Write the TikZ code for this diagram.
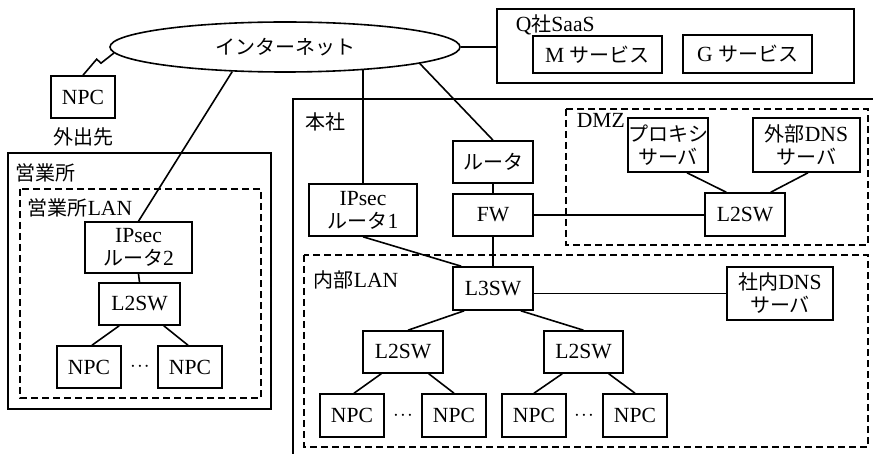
\documentclass[tikz,border=0pt]{standalone}
\usepackage{fontspec}
\setmainfont{Liberation Serif}[Scale=1.08]
\newfontfamily\jp{Noto Sans CJK JP}
\usetikzlibrary{shapes.geometric}
\begin{document}
\begin{tikzpicture}[x=1pt,y=-1pt, line width=1.6pt,
  font=\fontsize{20}{23}\selectfont,
  box/.style={draw, inner sep=0pt, align=center},
  zone/.style={draw, dash pattern=on 7pt off 4pt},
  lbl/.style={anchor=west, inner sep=0pt},
  dots/.style={inner sep=0pt}]
\useasboundingbox (0,0) rectangle (873,454);

% containers
\draw (293,454) -- (293,99) -- (873,99);
\draw (8,153) rectangle (271,409);
\draw[zone] (20,189) rectangle (261,398);
\draw[zone] (566,109) rectangle (868,245);
\draw[zone] (304,255) rectangle (868,447);
\node[box, minimum width=357, minimum height=74] (saas) at (675.5,46) {};

% labels
\node[lbl] (lHonsha) at (305,122) {\jp 本社};
\node[lbl] (lEigyo) at (15,173) {\jp 営業所};
\node[lbl] (lEigyoLAN) at (27,208) {{\jp 営業所}LAN};
\node[lbl] (lDMZ) at (576,120) {DMZ};
\node[lbl] (lNaibu) at (313,280) {{\jp 内部}LAN};
\node[lbl] (lSaaS) at (515,25) {Q{\jp 社}SaaS};

% internet
\node[ellipse, draw, minimum width=350, minimum height=50, inner sep=0pt] (inet) at (285,47) {\jp インターネット};

% services
\node[box, minimum width=129, minimum height=37] (msvc) at (597.5,54.5) {M {\jp サービス}};
\node[box, minimum width=129, minimum height=38] (gsvc) at (747.5,54) {G {\jp サービス}};

% outside NPC
\node[box, minimum width=64, minimum height=42] (npc0) at (83,97) {NPC};
\node[inner sep=0pt] (lOut) at (83,137) {\jp 外出先};

% branch office
\node[box, minimum width=107, minimum height=51] (ipsec2) at (138.5,247.5) {IPsec\\{\jp ルータ}2};
\node[box, minimum width=81, minimum height=42] (l2a) at (139.5,304) {L2SW};
\node[box, minimum width=64, minimum height=42] (npcA1) at (89,367) {NPC};
\node[box, minimum width=64, minimum height=42] (npcA2) at (190,367) {NPC};
\node[dots] (dotsA) at (140,367) {$\cdot\!\cdot\!\cdot$};

% head office
\node[box, minimum width=108, minimum height=52] (ipsec1) at (363,210) {IPsec\\{\jp ルータ}1};
\node[box, minimum width=80, minimum height=42] (router) at (493,162) {\jp ルータ};
\node[box, minimum width=80, minimum height=42] (fw) at (493,215) {FW};
\node[box, minimum width=80, minimum height=43] (l3) at (493,288.5) {L3SW};
\node[box, minimum width=78, minimum height=54] (proxy) at (668,145) {{\jp プロキシ}\\{\jp サーバ}};
\node[box, minimum width=107, minimum height=54] (extdns) at (806.5,145) {{\jp 外部}DNS\\{\jp サーバ}};
\node[box, minimum width=80, minimum height=43] (l2dmz) at (745,214.5) {L2SW};
\node[box, minimum width=106, minimum height=53] (indns) at (780,293.5) {{\jp 社内}DNS\\{\jp サーバ}};
\node[box, minimum width=80, minimum height=42] (l2b) at (403,352) {L2SW};
\node[box, minimum width=79, minimum height=42] (l2c) at (583.5,352) {L2SW};
\node[box, minimum width=64, minimum height=43] (npcB1) at (352,415.5) {NPC};
\node[box, minimum width=64, minimum height=43] (npcB2) at (454,415.5) {NPC};
\node[box, minimum width=64, minimum height=43] (npcC1) at (534,415.5) {NPC};
\node[box, minimum width=64, minimum height=43] (npcC2) at (635,415.5) {NPC};
\node[dots] (dotsB) at (403,415.5) {$\cdot\!\cdot\!\cdot$};
\node[dots] (dotsC) at (584,415.5) {$\cdot\!\cdot\!\cdot$};

% connectors
\draw (npc0.north) -- ++(13.7,-16) -- ++(4.3,4) -- (inet.182);
\draw (inet.east) -- (saas.west |- inet.east);
\draw (ipsec2.north) -- (inet.205);
\draw (ipsec2.south) -- (l2a.north);
\draw ([xshift=21]l2a.south west) -- ([xshift=3]npcA1.north);
\draw ([xshift=-17]l2a.south east) -- ([xshift=-2]npcA2.north);
\draw (ipsec1.north) -- (ipsec1.north |- inet.344);
\draw (router.north) -- (inet.353);
\draw (router.south) -- (fw.north);
\draw (fw.south) -- (l3.north);
\draw (fw.east) -- (l2dmz.west |- fw.east);
\draw ([xshift=19]proxy.south) -- ([xshift=22]l2dmz.north west);
\draw ([xshift=1.5]extdns.south) -- ([xshift=-15]l2dmz.north east);
\draw (ipsec1.south) -- ([xshift=9]l3.north west);
\draw (l3.east |- indns.west) -- (indns.west);
\draw ([xshift=12]l3.south west) -- ([xshift=5]l2b.north);
\draw ([xshift=-13]l3.south east) -- (l2c.north);
\draw ([xshift=19]l2b.south west) -- ([xshift=2]npcB1.north);
\draw ([xshift=-15]l2b.south east) -- (npcB2.north);
\draw ([xshift=19]l2c.south west) -- (npcC1.north);
\draw ([xshift=-15]l2c.south east) -- (npcC2.north);
\end{tikzpicture}
\end{document}
